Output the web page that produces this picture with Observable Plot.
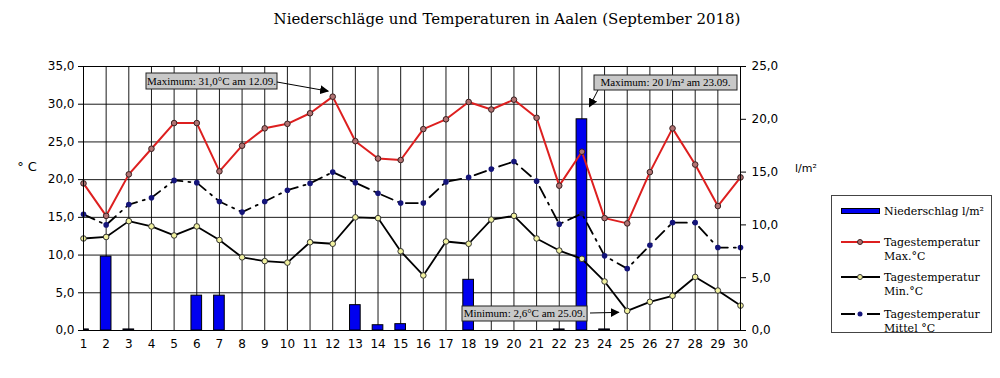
<!DOCTYPE html>
<html>
<head>
<meta charset="utf-8">
<script src="https://cdn.jsdelivr.net/npm/d3@7"></script>
<script src="https://cdn.jsdelivr.net/npm/@observablehq/plot@0.6"></script>
<style>
  html, body { margin: 0; padding: 0; background: #fff; }
  #wrap { position: relative; width: 1000px; height: 378px; overflow: hidden; }
  #title { position: absolute; top: 10px; left: 507px; transform: translateX(-50%);
           font-family: "DejaVu Serif", serif; font-size: 15px; white-space: nowrap; color: #000; }
  #chart { position: absolute; top: 0; left: 0; }
</style>
</head>
<body>
<div id="wrap">
  <div id="chart"></div>
  <div id="title">Niederschläge und Temperaturen in Aalen (September 2018)</div>
</div>
<script>
// ---- data ----
const days   = [1,2,3,4,5,6,7,8,9,10,11,12,13,14,15,16,17,18,19,20,21,22,23,24,25,26,27,28,29,30];
const precip = [0.1,7.0,0.1,0,0,3.3,3.3,0,0,0,0,0,2.4,0.5,0.6,0,0,4.8,0,0,0,0.1,20.0,0.1,0,0,0,0,0,0];
const tmax   = [19.5,15.2,20.7,24.1,27.5,27.5,21.1,24.5,26.8,27.4,28.8,31.0,25.1,22.8,22.6,26.7,28.0,30.3,29.3,30.6,28.2,19.2,23.7,14.9,14.2,21.0,26.8,22.0,16.5,20.3];
const tmin   = [12.2,12.4,14.5,13.8,12.6,13.8,12.0,9.7,9.2,9.0,11.7,11.5,15.0,14.9,10.5,7.3,11.8,11.5,14.7,15.2,12.2,10.6,9.5,6.5,2.6,3.8,4.6,7.1,5.3,3.3];
const tmean  = [15.4,14.0,16.7,17.6,19.9,19.6,17.1,15.7,17.1,18.6,19.5,21.0,19.6,18.2,16.9,16.9,19.7,20.3,21.4,22.4,19.8,14.1,15.5,9.9,8.2,11.3,14.3,14.3,11.0,11.0];
const leftTicks  = [0,5,10,15,20,25,30,35];
const rightTicks = [0,5,10,15,20,25];
const legendLabels = ["Niederschlag l/m²", ["Tagestemperatur","Max.°C"], ["Tagestemperatur","Min.°C"], ["Tagestemperatur","Mittel °C"]];
const annotations = [
  {text: "Maximum: 31,0°C am 12.09.",  day: 12, value: 31.0, series: "t"},
  {text: "Maximum: 20 l/m² am 23.09.", day: 23, value: 20,   series: "p"},
  {text: "Minimum: 2,6°C am 25.09.",   day: 25, value: 2.6,  series: "t"}
];

// ---- build ----
const k = 35 / 25; // right axis (l/m²) -> left axis (°C)
const rows = days.map((d, i) => ({day: d, p: precip[i], tmax: tmax[i], tmin: tmin[i], tmean: tmean[i]}));
const fmt = v => (Math.round(v * 10) / 10).toFixed(1).replace(".", ",");

const plot = Plot.plot({
  width: 1000, height: 378,
  marginLeft: 83, marginRight: 260, marginTop: 66, marginBottom: 48,
  style: {fontFamily: "DejaVu Sans", fontSize: "12px", color: "#000", background: "transparent"},
  x: {type: "linear", domain: [1, 30]},
  y: {domain: [0, 35]},
  marks: [
    Plot.gridY({ticks: leftTicks, stroke: "#000", strokeOpacity: 0.9}),
    Plot.gridX({ticks: days, stroke: "#000", strokeOpacity: 0.9}),
    Plot.rectY(rows.filter(r => r.p > 0), {
      x1: r => r.day - 0.235, x2: r => r.day + 0.235, y1: 0, y2: r => r.p * k,
      fill: "#0000f0", stroke: "#000", strokeWidth: 1, clip: true
    }),
    Plot.line(rows, {x: "day", y: "tmin", stroke: "#000", strokeWidth: 1.8}),
    Plot.dot(rows, {x: "day", y: "tmin", r: 2.8, fill: "#f2f2a0", stroke: "#333", strokeWidth: 1}),
    Plot.line(rows, {x: "day", y: "tmean", stroke: "#000", strokeWidth: 1.8, strokeDasharray: "12,6,2,6"}),
    Plot.dot(rows, {x: "day", y: "tmean", r: 2.8, fill: "#14147a"}),
    Plot.line(rows, {x: "day", y: "tmax", stroke: "#dd1f1f", strokeWidth: 2}),
    Plot.dot(rows, {x: "day", y: "tmax", r: 2.8, fill: "#b07272", stroke: "#3a2020", strokeWidth: 1}),
    Plot.frame({stroke: "#000"}),
    Plot.axisY({anchor: "left", ticks: leftTicks, tickFormat: fmt, tickSize: 5, tickPadding: 4, label: null}),
    Plot.axisY({anchor: "right", ticks: rightTicks.map(v => v * k), tickFormat: t => fmt(t / k), tickSize: 5, tickPadding: 6, label: null}),
    Plot.axisX({ticks: days, tickFormat: d => String(d), tickSize: 0, tickPadding: 9, label: null})
  ]
});
document.getElementById("chart").appendChild(plot);

const sx = plot.scale("x"), sy = plot.scale("y");
const svg = d3.select(plot);

// axis unit labels
svg.append("text").attr("x", 27).attr("y", 171).attr("text-anchor", "middle")
  .attr("font-family", "DejaVu Sans").attr("font-size", 13).text("° C");
svg.append("text").attr("x", 795).attr("y", 172).attr("text-anchor", "start").attr("font-family", "DejaVu Sans")
  .attr("font-size", 11).text("l/m²");

// arrow marker
const defs = svg.append("defs");
defs.append("marker").attr("id", "ah").attr("viewBox", "0 0 10 10").attr("refX", 9).attr("refY", 5)
  .attr("markerWidth", 9).attr("markerHeight", 9).attr("orient", "auto-start-reverse")
  .attr("markerUnits", "userSpaceOnUse")
  .append("path").attr("d", "M0,0 L10,5 L0,10 z").attr("fill", "#000");

// annotation boxes (box pixel placement; arrow ends follow the data scales)
const boxes = [
  {x: 146, y: 73, w: 131, h: 16, from: [277, 82], off: [-4, -5]},
  {x: 594, y: 75, w: 143, h: 15, from: [598, 90], off: [8, -12]},
  {x: 462, y: 306, w: 125, h: 15, from: [590, 313], off: [-8, 2]}
];
annotations.forEach((a, i) => {
  const b = boxes[i];
  const g = svg.append("g");
  g.append("rect").attr("x", b.x).attr("y", b.y).attr("width", b.w).attr("height", b.h)
    .attr("fill", "#c8c8c8").attr("stroke", "#222").attr("stroke-width", 1);
  g.append("text").attr("x", b.x + b.w / 2).attr("y", b.y + b.h / 2 + 3.5).attr("text-anchor", "middle")
    .attr("font-family", "Liberation Serif").attr("font-size", 11).text(a.text);
  const tx = sx.apply(a.day) + b.off[0];
  const ty = sy.apply(a.series === "p" ? a.value * k : a.value) + b.off[1];
  g.append("line").attr("x1", b.from[0]).attr("y1", b.from[1]).attr("x2", tx).attr("y2", ty)
    .attr("stroke", "#000").attr("stroke-width", 1).attr("marker-end", "url(#ah)");
});

// legend
const lg = svg.append("g").attr("font-family", "DejaVu Serif").attr("font-size", 11).attr("text-anchor", "start");
lg.append("rect").attr("x", 831.5).attr("y", 195.5).attr("width", 160).attr("height", 137)
  .attr("fill", "#fff").attr("stroke", "#444");
// precipitation swatch
lg.append("rect").attr("x", 841.5).attr("y", 208.5).attr("width", 38).attr("height", 5)
  .attr("fill", "#0000f0").attr("stroke", "#000");
lg.append("text").attr("x", 884).attr("y", 215).text(legendLabels[0]);
const items = [
  {y: 242, stroke: "#dd1f1f", dash: null, fill: "#b07272", dstroke: "#3a2020", lbl: legendLabels[1]},
  {y: 277, stroke: "#000", dash: null, fill: "#f2f2a0", dstroke: "#333", lbl: legendLabels[2]},
  {y: 314, stroke: "#000", dash: "14,5,2,5", fill: "#14147a", dstroke: "none", lbl: legendLabels[3]}
];
items.forEach(it => {
  lg.append("line").attr("x1", 841).attr("x2", 880).attr("y1", it.y).attr("y2", it.y)
    .attr("stroke", it.stroke).attr("stroke-width", 1.8).attr("stroke-dasharray", it.dash);
  lg.append("circle").attr("cx", 860).attr("cy", it.y).attr("r", 2.5)
    .attr("fill", it.fill).attr("stroke", it.dstroke);
  lg.append("text").attr("x", 884).attr("y", it.y + 4).text(it.lbl[0]);
  lg.append("text").attr("x", 884).attr("y", it.y + 18).text(it.lbl[1]);
});
</script>
</body>
</html>
